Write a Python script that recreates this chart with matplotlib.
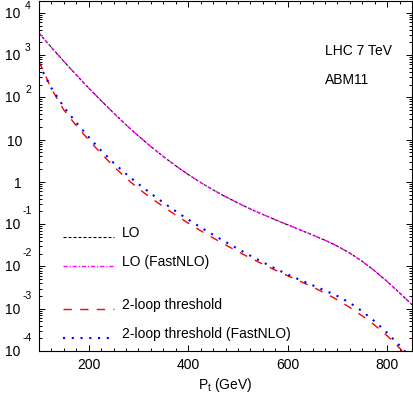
import numpy as np
import matplotlib
matplotlib.use("Agg")
import matplotlib.pyplot as plt
from matplotlib.ticker import MultipleLocator, LogLocator, NullFormatter
from matplotlib.transforms import blended_transform_factory, offset_copy

plt.rcParams["font.family"] = ["Liberation Sans", "DejaVu Sans"]
plt.rcParams["mathtext.fontset"] = "custom"
plt.rcParams["mathtext.rm"] = "Liberation Sans"

# top-quark pT grid (GeV) and log10 of the cross sections
pt = [100, 125, 150, 175, 200, 225, 250, 275, 300, 325, 350, 375, 400, 425,
      450, 475, 500, 525, 550, 575, 600, 625, 650, 675, 700, 725, 750, 775,
      800, 825, 850]
lo_log = [3.52, 3.18, 2.85, 2.53, 2.22, 1.92, 1.63, 1.35, 1.085, 0.835, 0.60,
          0.38, 0.175, -0.015, -0.19, -0.35, -0.50, -0.64, -0.77, -0.895,
          -1.015, -1.135, -1.255, -1.38, -1.52, -1.685, -1.88, -2.105, -2.355,
          -2.625, -2.905]
thr_log = [2.85, 2.20, 1.70, 1.33, 0.99, 0.67, 0.37, 0.09, -0.16, -0.38,
           -0.585, -0.785, -0.975, -1.155, -1.325, -1.49, -1.65, -1.80,
           -1.945, -2.085, -2.22, -2.35, -2.485, -2.63, -2.79, -2.97, -3.17,
           -3.39, -3.64, -3.93, -4.27]
thr_fast_log = [2.78, 2.22, 1.77, 1.40, 1.06, 0.74, 0.45, 0.19, -0.05, -0.275,
                -0.49, -0.695, -0.89, -1.075, -1.25, -1.42, -1.585, -1.745,
                -1.90, -2.05, -2.19, -2.32, -2.445, -2.57, -2.70, -2.86, -3.06,
                -3.30, -3.57, -3.87, -4.19]

labels = ["LO", "LO (FastNLO)", "2-loop threshold", "2-loop threshold (FastNLO)"]
decades = [-4, -3, -2, -1, 0, 1, 2, 3, 4]
x_ticks = [200, 400, 600, 800]

pt = np.array(pt)
lo = 10 ** np.array(lo_log)
thr = 10 ** np.array(thr_log)
thr_fast = 10 ** np.array(thr_fast_log)

fig = plt.figure(figsize=(4.13, 3.98), dpi=100)
ax = fig.add_axes([39 / 413, 1 - 351 / 398, 373 / 413, 350 / 398])

styles = [
    dict(color="black", lw=0.8, dashes=(2.7, 1.8)),
    dict(color="#ff00ff", lw=1.0, dashes=(3.0, 1.4, 0.8, 1.4)),
    dict(color="#ff0000", lw=1.0, dashes=(6, 6)),
    dict(color="#0000ff", lw=1.5, dashes=(1, 3.2)),
]

ax.plot(pt, lo, **styles[0])
ax.plot(pt, lo, **styles[1])
ax.plot(pt, thr, **styles[2])
ax.plot(pt, thr_fast, **styles[3])

ax.set_yscale("log")
ax.set_xlim(100, 850)
ax.set_ylim(1e-4, 1.9e4)

ax.set_xticks(x_ticks)
ax.xaxis.set_minor_locator(MultipleLocator(25))
ax.yaxis.set_major_locator(LogLocator(base=10, numticks=20))
ax.yaxis.set_minor_locator(LogLocator(base=10, subs=np.arange(2, 10), numticks=20))
ax.yaxis.set_minor_formatter(NullFormatter())
ax.tick_params(which="both", direction="in", top=True, right=True, width=0.7)
ax.tick_params(which="major", length=4.5, labelsize=10, pad=5)
ax.tick_params(which="minor", length=2.3)
ax.tick_params(axis="y", labelleft=False)
for s in ax.spines.values():
    s.set_linewidth(0.8)

# gnuplot style y labels: "10" with a raised exponent
trans = blended_transform_factory(ax.transAxes, ax.transData)
for e in decades:
    if e in (0, 1):
        t = offset_copy(trans, fig=fig, x=-17, y=-2, units="dots")
        ax.text(0, 10.0 ** e, str(10 ** e), ha="right", va="center",
                fontsize=10, transform=t, clip_on=False)
        continue
    t = offset_copy(trans, fig=fig, x=-19, y=-1, units="dots")
    ax.text(0, 10.0 ** e, "10", ha="right", va="center", fontsize=10,
            transform=t, clip_on=False)
    up = 7 if e > 0 else 13
    left = -14 if e > 0 else -16
    t = offset_copy(trans, fig=fig, x=left, y=up, units="dots")
    ax.text(0, 10.0 ** e, str(e), ha="left", va="center", fontsize=7.5,
            transform=t, clip_on=False)

ax.set_xlabel(r"$\mathrm{P_t}$ (GeV)", fontsize=10, labelpad=3)

ax.text(0.768, 0.858, "LHC 7 TeV", transform=ax.transAxes, fontsize=10,
        va="center")
ax.text(0.768, 0.773, "ABM11", transform=ax.transAxes, fontsize=10,
        va="center")

# legend drawn by hand to keep the uneven row spacing
rows_y = [237, 266, 309, 338]
for lab, st, yy in zip(labels, styles, rows_y):
    ya = (351 - yy) / 350
    ax.plot([(63 - 39) / 373, (114 - 39) / 373], [ya, ya], transform=ax.transAxes,
            **st)
    ax.text((122 - 39) / 373, ya + 4 / 350, lab, transform=ax.transAxes,
            fontsize=10, va="center")

fig.savefig("out.png", dpi=100)
